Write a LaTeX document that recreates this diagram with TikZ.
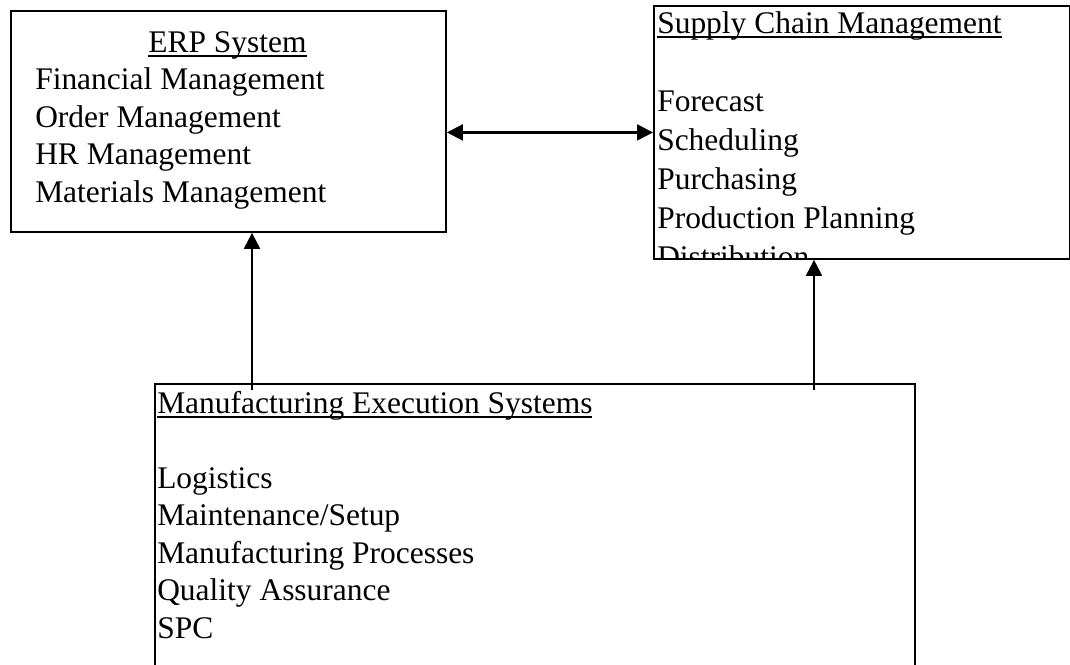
\documentclass[tikz,border=0pt]{standalone}
\usepackage{fontspec}
\setmainfont{Liberation Serif}
\usepackage{tikz}
\usetikzlibrary{positioning,arrows.meta}
\newcommand{\undl}[1]{\setbox0\hbox{#1}\rlap{\raisebox{-3.6pt}{\rule{\wd0}{1.1pt}}}\box0}
\tikzset{
  sysbox/.style = {shape=rectangle, draw, line width=1.4pt,
                   inner sep=0pt, anchor=north west},
  item/.style   = {anchor=base west, inner sep=0pt},
  link/.style   = {draw, line width=1.6pt,
                   >={Triangle[length=12pt,width=12pt]}}
}

\begin{document}
\begin{tikzpicture}
  [
    x                 = 0.75pt,
    y                 = -0.75pt,
    every node/.style = {font=\fontsize{23.6}{28}\selectfont}
  ]
  \useasboundingbox (0,0) rectangle (1070,664);

  % the three systems (the shop floor box runs off the page)
  \node [sysbox, minimum width=326.25pt, minimum height=165.75pt] (erp) at (10,10) {};
  \node [sysbox, minimum width=312pt, minimum height=189.75pt] (scm) at (653,5) {};
  \node [sysbox, minimum width=570pt, minimum height=215pt] (mes) at (154,383) {};

  % ERP modules
  \node [item, anchor=base] (erp-title) at (227.5,52) {\undl{ERP System}};
  \foreach \name [count=\i] in {Financial Management, Order Management,
                                HR Management, Materials Management}
    \node [item] (erp-\i) at (35, 52+37.5*\i) {\name};

  % supply chain list, cut off by its box
  \begin{scope}
    \clip (scm.north west) rectangle (scm.south east);
    \node [item] (scm-title) at (657,33) {\undl{Supply Chain Management}};
    \foreach \name [count=\i] in {Forecast, Scheduling, Purchasing,
                                  Production Planning, Distribution}
      \node [item] (scm-\i) at (657, 72+39*\i) {\name};
  \end{scope}

  % shop floor
  \node [item] (mes-title) at (157,413) {\undl{Manufacturing Execution Systems}};
  \foreach \name [count=\i] in {Logistics, Maintenance/Setup, Manufacturing Processes,
                                Quality Assurance, SPC}
    \node [item] (mes-\i) at (157, 450.5+37.5*\i) {\name};

  % data flow
  \coordinate (left rise)  at (252,390);
  \coordinate (right rise) at (814,390);
  \draw [link, <->] (erp.east |- scm.west) -- (scm.west);
  \draw [link, ->] (left rise) -- (left rise |- erp.south);
  \draw [link, ->] (right rise) -- (right rise |- scm.south);
\end{tikzpicture}
\end{document}
